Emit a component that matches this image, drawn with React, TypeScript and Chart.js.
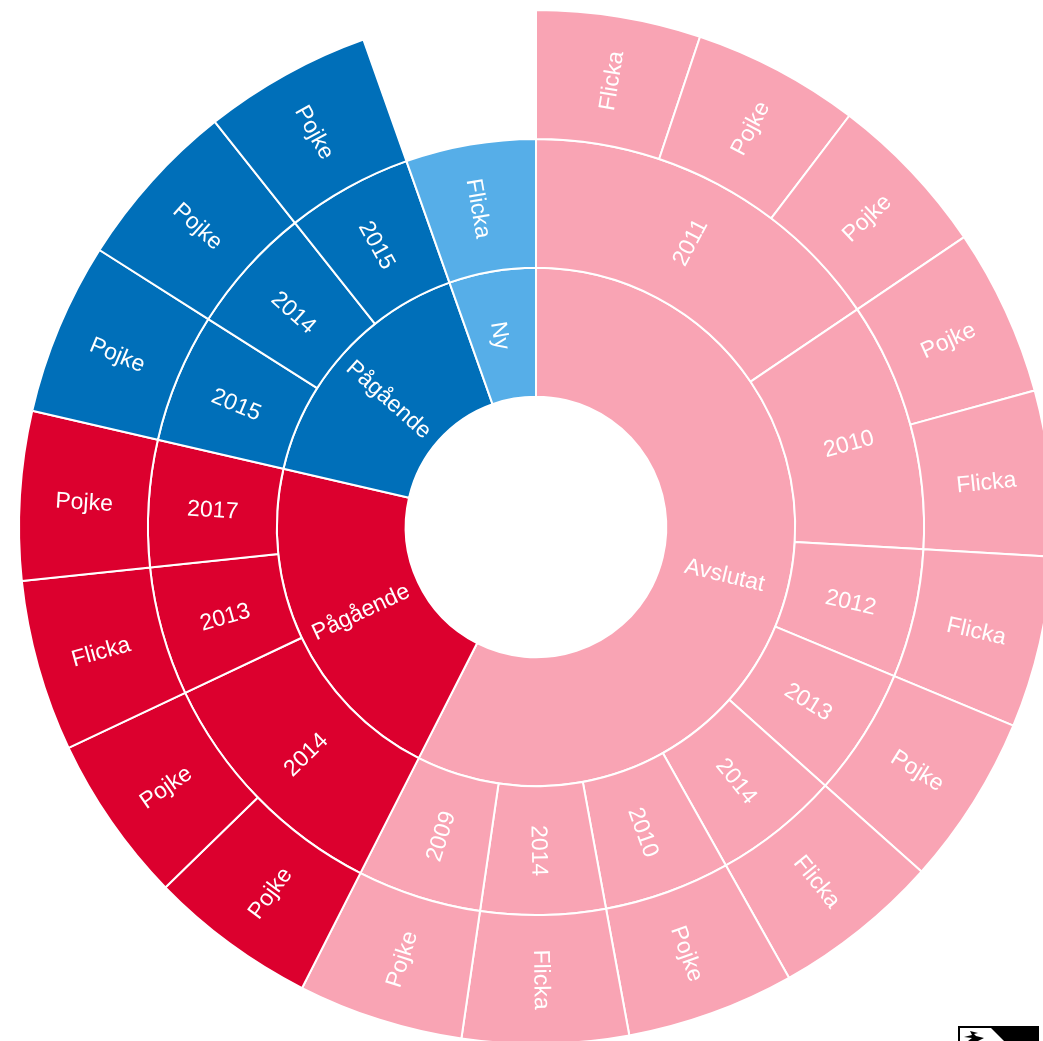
import React, { useEffect, useRef } from "react";
import { Chart, registerables } from "chart.js";

Chart.register(...registerables);

const PINK = "#f9a4b4";
const RED = "#dc002e";
const BLUE = "#006fb9";
const LIGHT = "#56aee8";

const statusLabels = ["Avslutat", "Pågående", "Pågående", "Ny"];
const statusValues = [206.9, 76.1, 57.5, 19.5];
const statusColors = [PINK, RED, BLUE, LIGHT];

const yearLabels = ["2011", "2010", "2012", "2013", "2014", "2010", "2014", "2009", "2014", "2013", "2017", "2015", "2014", "2015", "Flicka"];
const yearValues = [55.9, 37.4, 19.3, 19.2, 18.9, 18.9, 18.7, 18.6, 37.8, 19.3, 19.0, 19.4, 19.2, 18.9, 19.5];
const yearColors = [PINK, PINK, PINK, PINK, PINK, PINK, PINK, PINK, RED, RED, RED, BLUE, BLUE, BLUE, LIGHT];

const genderLabels = ["Flicka", "Pojke", "Pojke", "Pojke", "Flicka", "Flicka", "Pojke", "Flicka", "Pojke", "Flicka", "Pojke", "Pojke", "Pojke", "Flicka", "Pojke", "Pojke", "Pojke", "Pojke", ""];
const genderValues = [18.5, 18.8, 18.6, 18.8, 18.6, 19.3, 19.2, 18.9, 18.9, 18.7, 18.6, 18.9, 18.9, 19.3, 19.0, 19.4, 19.2, 18.9, 19.5];
const genderColors = [PINK, PINK, PINK, PINK, PINK, PINK, PINK, PINK, PINK, PINK, PINK, RED, RED, RED, RED, BLUE, BLUE, BLUE, "rgba(0,0,0,0)"];
const genderBorders = [2, 2, 2, 2, 2, 2, 2, 2, 2, 2, 2, 2, 2, 2, 2, 2, 2, 2, 0];

const ringTexts = [genderLabels, yearLabels, statusLabels];

const labelPlugin = {
  id: "sunburstLabels",
  afterDatasetsDraw(chart: any) {
    const { ctx } = chart;
    ringTexts.forEach((texts, i) => {
      chart.getDatasetMeta(i).data.forEach((arc: any, j: number) => {
        const text = texts[j];
        if (!text) return;
        const { x, y, startAngle, endAngle, innerRadius, outerRadius } = arc;
        const mid = (startAngle + endAngle) / 2;
        const r = (innerRadius + outerRadius) / 2;
        const px = x + Math.cos(mid) * r;
        const py = y + Math.sin(mid) * r;
        const c = Math.cos(mid);
        const rot = c >= 0 ? mid : mid + Math.PI;
        ctx.save();
        ctx.translate(px, py);
        ctx.rotate(rot);
        ctx.font = '23px "Liberation Sans", Arial, sans-serif';
        ctx.fillStyle = "#ffffff";
        ctx.textAlign = "center";
        ctx.textBaseline = "middle";
        ctx.fillText(text, 0, 3.5);
        ctx.restore();
      });
    });
  },
};

export default function App() {
  const ref = useRef<HTMLCanvasElement>(null);
  useEffect(() => {
    const chart = new Chart(ref.current as HTMLCanvasElement, {
      type: "doughnut",
      plugins: [labelPlugin],
      data: {
        labels: genderLabels,
        datasets: [
          { data: genderValues, backgroundColor: genderColors, borderColor: "#ffffff", borderWidth: genderBorders },
          { data: yearValues, backgroundColor: yearColors, borderColor: "#ffffff", borderWidth: 2 },
          { data: statusValues, backgroundColor: statusColors, borderColor: "#ffffff", borderWidth: 2 },
        ] as any,
      },
      options: {
        responsive: false,
        animation: false,
        cutout: "25.2%",
        layout: { padding: 18 },
        plugins: { legend: { display: false }, tooltip: { enabled: false } },
      } as any,
    });
    return () => chart.destroy();
  }, []);
  return (
    <div style={{ position: "fixed", left: 0, top: 0, width: 1043, height: 1041, overflow: "hidden", background: "#fff" }}>
      <canvas ref={ref} width={1072} height={1072} style={{ position: "absolute", left: 0, top: -9, display: "block" }} />
      <svg width={81} height={15} style={{ position: "absolute", left: 958, top: 1026, display: "block" }}>
        <rect x={0} y={0} width={81} height={15} fill="#000" />
        <polygon points="2,2 33,2 46,15 2,15" fill="#fff" />
        <path d="M12 5 L20 7 L16 8 L18 10 L26 12 L20 15 L10 15 L14 12 L6 11 L14 9 Z" fill="#000" />
      </svg>
    </div>
  );
}
